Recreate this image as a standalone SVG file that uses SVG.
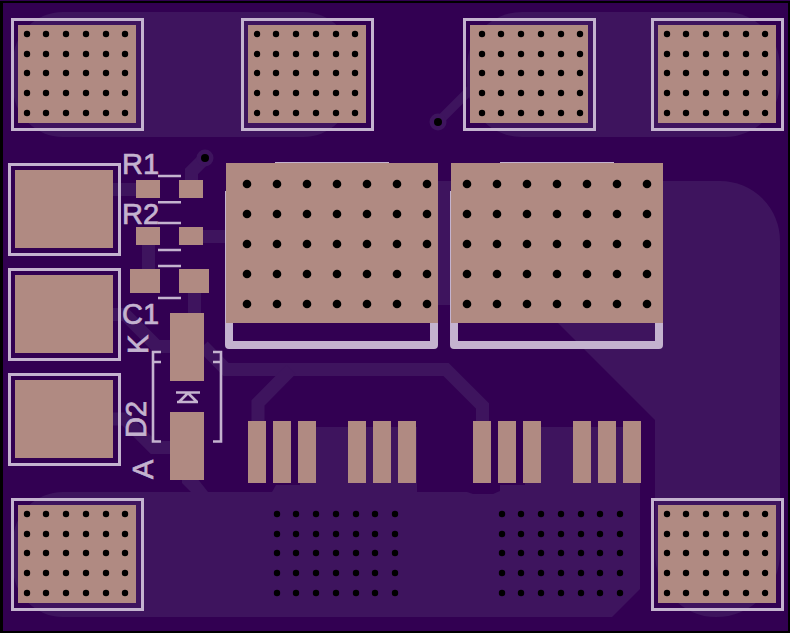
<svg xmlns="http://www.w3.org/2000/svg" xmlns:xlink="http://www.w3.org/1999/xlink" width="790" height="633" viewBox="0 0 790 633">
<style>
.cu{fill:#3e145e;stroke:none}
.tr{fill:none;stroke:#3e145e;stroke-width:13;stroke-linejoin:miter}
.pad{fill:#b08a82}
.silk{fill:none;stroke:#c4b3cf;stroke-width:3}
.thin{fill:none;stroke:#c4b3cf;stroke-width:2.6}
.fat{fill:none;stroke:#c4b3cf;stroke-width:8;stroke-linejoin:round}
.txt{font-family:"Liberation Sans",Arial,sans-serif;font-size:29px;fill:#c4b3cf;stroke:#c4b3cf;stroke-width:0.7}
.h{fill:#000}
</style>
<defs>
<g id="col5"><circle cy="0" r="3.2" class="h"/><circle cy="20" r="3.2" class="h"/><circle cy="39" r="3.2" class="h"/><circle cy="59" r="3.2" class="h"/><circle cy="79" r="3.2" class="h"/></g>
<g id="grid6"><use xlink:href="#col5" href="#col5" x="0"/><use xlink:href="#col5" href="#col5" x="19"/><use xlink:href="#col5" href="#col5" x="39"/><use xlink:href="#col5" href="#col5" x="59"/><use xlink:href="#col5" href="#col5" x="79"/><use xlink:href="#col5" href="#col5" x="98"/></g>
<g id="grid7"><use xlink:href="#grid6" href="#grid6"/><use xlink:href="#col5" href="#col5" x="118"/></g>
<g id="bcol"><circle cy="0" r="4.3" class="h"/><circle cy="30" r="4.3" class="h"/><circle cy="60" r="4.3" class="h"/><circle cy="90" r="4.3" class="h"/><circle cy="120" r="4.3" class="h"/></g>
<g id="bgrid"><use xlink:href="#bcol" href="#bcol" x="0"/><use xlink:href="#bcol" href="#bcol" x="30"/><use xlink:href="#bcol" href="#bcol" x="60"/><use xlink:href="#bcol" href="#bcol" x="90"/><use xlink:href="#bcol" href="#bcol" x="120"/><use xlink:href="#bcol" href="#bcol" x="150"/><use xlink:href="#bcol" href="#bcol" x="180"/></g>
</defs>
<rect width="790" height="633" fill="#320052"/>
<path d="M0 1H790V633H0Z M3 3V631H788V3Z" fill="#000" fill-rule="evenodd"/>

<g id="pours">
<rect class="cu" x="13" y="12" width="340" height="125" rx="50" ry="50"/>
<rect class="cu" x="467" y="12" width="313" height="125" rx="55" ry="55"/>
<path class="cu" d="M432 181H720A60 60 0 0 1 780 241V553A64 64 0 0 1 716 617A61 64 0 0 1 655 553V420L540 305H432Z"/>
<path class="cu" d="M63 492H272L276 485H300V427H417V492H467L473 494H493L500 491V485H525V427H640V589L612 617H63A50 50 0 0 1 13 567V542A50 50 0 0 1 63 492Z"/>
<path class="cu" d="M182 478V483L191 492H208L197 478Z"/>
</g>

<g id="connectors">
<path class="tr" d="M110 189.500H140"/>
<path class="tr" d="M205 158L191.500 171.500V190"/>
<path class="tr" d="M200 236.500H230"/>
<path class="tr" d="M148.500 243V271"/>
<path class="tr" d="M194.500 291V315"/>
<path class="tr" d="M110 314.500H125L157 346.500H172"/>
<path class="tr" d="M110 419H125L153.500 447.500H172"/>
<path class="tr" d="M203 346L226 369.500H446L482.500 406V423"/>
<path class="tr" d="M291 369.500L258 403V423"/>
<path class="tr" d="M438 122L475 85" style="stroke-width:9"/>
<circle class="cu" cx="438" cy="122" r="8.500"/>
<circle class="cu" cx="205" cy="158" r="8.500"/>
<circle class="h" cx="438" cy="122" r="4"/>
<circle class="h" cx="205" cy="158" r="4"/>
</g>

<g id="J1"><rect class="silk" x="12.500" y="19.500" width="130" height="110"/><rect class="pad" x="18" y="25" width="118" height="98"/><use xlink:href="#grid6" href="#grid6" x="27" y="34"/></g>
<g id="J2"><rect class="silk" x="242.500" y="19.500" width="130" height="110"/><rect class="pad" x="248" y="25" width="118" height="98"/><use xlink:href="#grid6" href="#grid6" x="257" y="34"/></g>
<g id="J3"><rect class="silk" x="464.500" y="19.500" width="130" height="110"/><rect class="pad" x="470" y="25" width="118" height="98"/><use xlink:href="#grid6" href="#grid6" x="482" y="34"/></g>
<g id="J4"><rect class="silk" x="652.500" y="19.500" width="130" height="110"/><rect class="pad" x="658" y="25" width="118" height="98"/><use xlink:href="#grid6" href="#grid6" x="667" y="34"/></g>
<g id="J5"><rect class="silk" x="12.500" y="499.500" width="130" height="110"/><rect class="pad" x="18" y="505" width="118" height="98"/><use xlink:href="#grid6" href="#grid6" x="27" y="514"/></g>
<g id="J6"><rect class="silk" x="652.500" y="499.500" width="130" height="110"/><rect class="pad" x="658" y="505" width="118" height="98"/><use xlink:href="#grid6" href="#grid6" x="667" y="514"/></g>

<g id="P1"><rect class="silk" x="9.500" y="164.500" width="110" height="90"/><rect class="pad" x="15" y="170" width="98" height="78"/></g>
<g id="P2"><rect class="silk" x="9.500" y="269.500" width="110" height="90"/><rect class="pad" x="15" y="275" width="98" height="78"/></g>
<g id="P3"><rect class="silk" x="9.500" y="374.500" width="110" height="90"/><rect class="pad" x="15" y="380" width="98" height="78"/></g>

<g id="R1"><path class="thin" d="M158 176H181M158 202.300H181"/><rect class="pad" x="136" y="180" width="24" height="18"/><rect class="pad" x="179" y="180" width="24" height="18"/><text class="txt" x="122" y="174">R1</text></g>
<g id="R2"><path class="thin" d="M158 223H181M158 250H181"/><rect class="pad" x="136" y="227" width="24" height="18"/><rect class="pad" x="179" y="227" width="24" height="18"/><text class="txt" x="122" y="224">R2</text></g>
<g id="C1"><path class="thin" d="M158 266H181M158 298H181"/><rect class="pad" x="130" y="269" width="30" height="24"/><rect class="pad" x="179" y="269" width="30" height="24"/><text class="txt" x="122" y="324">C1</text></g>
<g id="D2">
<path class="thin" d="M161 352H153V441.500H161M153 362H161M213 352H221V441.500H213M213 362H221"/>
<path class="thin" d="M176 392.500H200M177 402H198M188 393L179 402M188 393L197 402"/>
<rect class="pad" x="170" y="313" width="34" height="68"/><rect class="pad" x="170" y="412" width="34" height="68"/>
<text class="txt" transform="translate(147.500 354) rotate(-90)">K</text>
<text class="txt" transform="translate(146 438) rotate(-90)">D2</text>
<text class="txt" transform="translate(153 479) rotate(-90)">A</text>
</g>

<g id="Q1"><path class="fat" d="M229 191V345H434V323M275 166H389"/><rect class="pad" x="226" y="163" width="212" height="160"/><use xlink:href="#bgrid" href="#bgrid" x="247" y="184"/></g>
<g id="Q2"><path class="fat" d="M454 191V345H659V323M500 166H614"/><rect class="pad" x="451" y="163" width="212" height="160"/><use xlink:href="#bgrid" href="#bgrid" x="467" y="184"/></g>

<g id="U1">
<rect class="pad" x="248" y="421" width="18" height="62"/><rect class="pad" x="273" y="421" width="18" height="62"/><rect class="pad" x="298" y="421" width="18" height="62"/>
<rect class="pad" x="348" y="421" width="18" height="62"/><rect class="pad" x="373" y="421" width="18" height="62"/><rect class="pad" x="398" y="421" width="18" height="62"/>
<use xlink:href="#grid7" href="#grid7" x="277" y="514"/>
</g>
<g id="U2">
<rect class="pad" x="473" y="421" width="18" height="62"/><rect class="pad" x="498" y="421" width="18" height="62"/><rect class="pad" x="523" y="421" width="18" height="62"/>
<rect class="pad" x="573" y="421" width="18" height="62"/><rect class="pad" x="598" y="421" width="18" height="62"/><rect class="pad" x="623" y="421" width="18" height="62"/>
<use xlink:href="#grid7" href="#grid7" x="502" y="514"/>
</g>
</svg>
